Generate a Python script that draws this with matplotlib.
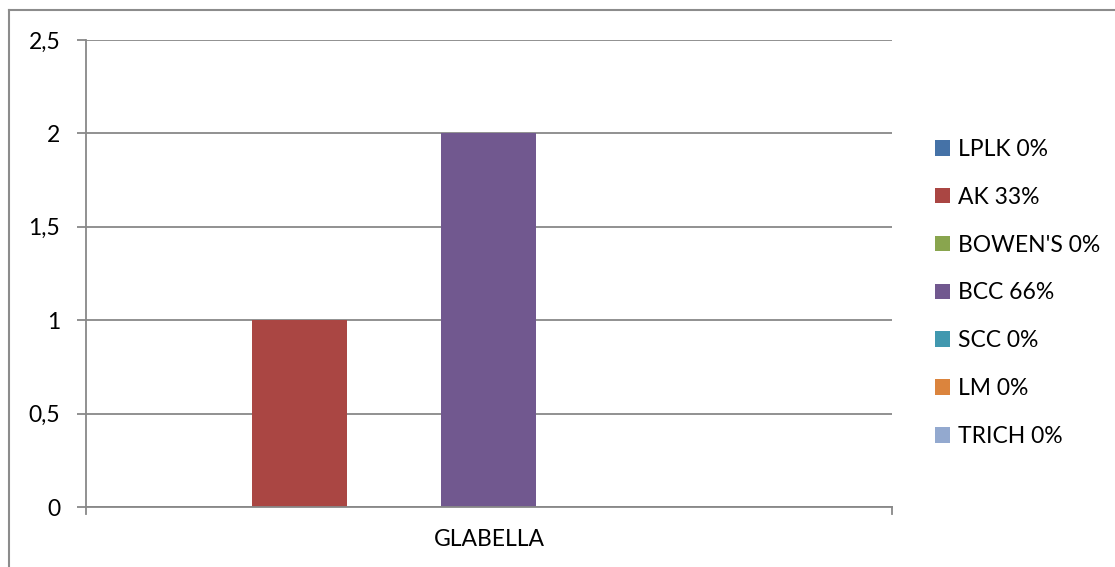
import matplotlib
matplotlib.use("Agg")
import matplotlib.pyplot as plt
from matplotlib.lines import Line2D

categories = ["GLABELLA"]
series_names = ["LPLK 0%", "AK 33%", "BOWEN'S 0%", "BCC 66%", "SCC 0%", "LM 0%", "TRICH 0%"]
series_values = [0, 1, 0, 2, 0, 0, 0]
series_colors = ["#4572A7", "#AA4643", "#89A54E", "#71588F", "#4198AF", "#DB843D", "#93A9CF"]
y_ticks = [0, 0.5, 1, 1.5, 2, 2.5]
y_labels = ["0", "0,5", "1", "1,5", "2", "2,5"]

plt.rcParams["font.family"] = ["Lato", "DejaVu Sans"]
GRID = "#888888"
FS = 16.5

fig = plt.figure(figsize=(11.15, 5.67), dpi=100)
ax = fig.add_axes([86 / 1115, 1 - 507 / 567, (892 - 86) / 1115, (507 - 40) / 567])

n = len(series_names)
w = 95 / 806
for i, (name, val, col) in enumerate(zip(series_names, series_values, series_colors)):
    ax.bar(0 + (i - (n - 1) / 2) * w, val, width=w, color=col, label=name, zorder=3)

ax.set_xlim(-0.5, 0.5)
ax.set_ylim(0, 2.5)
ax.set_yticks(y_ticks)
ax.set_yticklabels(y_labels, fontsize=FS)
ax.set_xticks([0])
ax.set_xticklabels(categories, fontsize=FS)
ax.tick_params(axis="x", length=0, pad=16)
ax.tick_params(axis="y", length=6.5, width=1.3, color=GRID, pad=12)
ax.yaxis.grid(True, color=GRID, lw=1.3, zorder=0)

for s in ["top", "right"]:
    ax.spines[s].set_visible(False)
for s in ["left", "bottom"]:
    ax.spines[s].set_color(GRID)
    ax.spines[s].set_linewidth(1.3)
ax.spines["left"].set_zorder(4)
ax.spines["bottom"].set_zorder(4)

# category boundary ticks on the x axis
for xb in (-0.5, 0.5):
    ax.plot([xb, xb], [0, -0.04], color=GRID, lw=1.3, clip_on=False, zorder=4)

leg = ax.legend(loc="upper left", bbox_to_anchor=(935 / 1115, 1 - 139 / 567),
                bbox_transform=fig.transFigure, frameon=False, fontsize=FS,
                handlelength=0.66, handleheight=0.66, handletextpad=0.36,
                labelspacing=1.17, borderpad=0, borderaxespad=0)

# outer chart border (cut off at right and bottom)
fig.add_artist(Line2D([9 / 1115, 9 / 1115], [0, 1 - 10 / 567], color="#8c8c8c", lw=1.5))
fig.add_artist(Line2D([9 / 1115, 1], [1 - 10 / 567, 1 - 10 / 567], color="#8c8c8c", lw=1.5))

fig.savefig("out.png", dpi=100)
